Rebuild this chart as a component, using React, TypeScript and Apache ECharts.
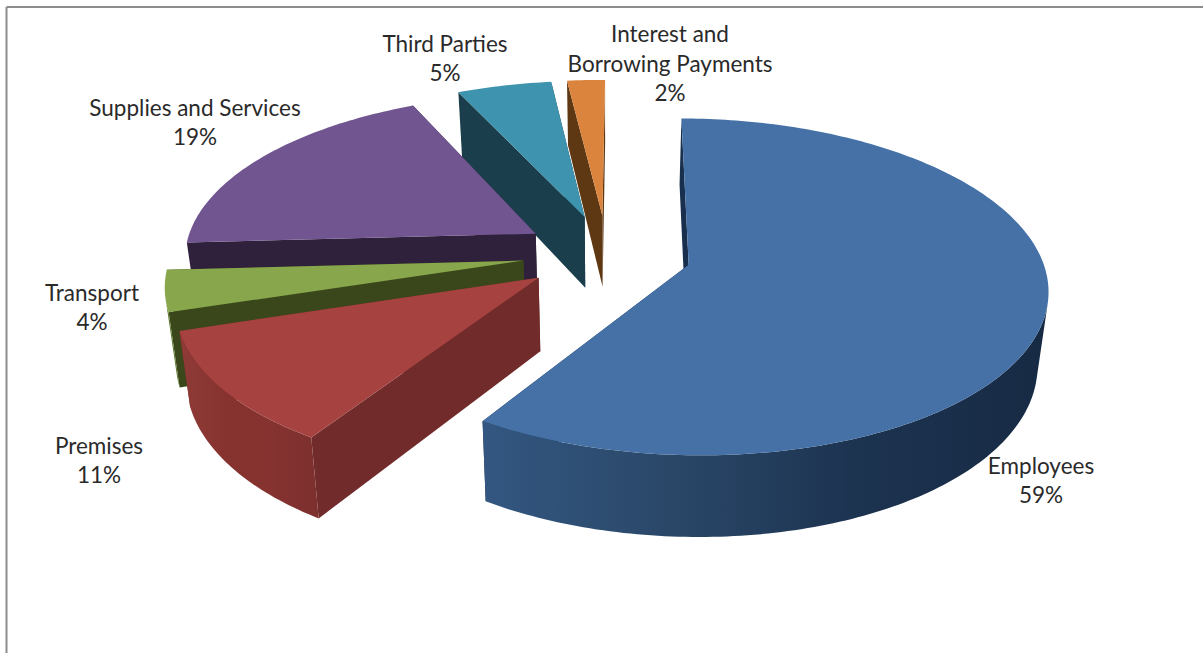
import React, { useEffect, useRef } from "react";
import * as echarts from "echarts";

// Cost breakdown, drawn as an exploded 3D pie
const categories = [
  "Employees",
  "Premises",
  "Transport",
  "Supplies and Services",
  "Third Parties",
  "Interest and\nBorrowing Payments",
];
const percentages = [59, 11, 4, 19, 5, 2];
const topColors = ["#4571a6", "#a64341", "#88a64c", "#715590", "#3e93ae", "#db843d"];
const wallColors = ["#18304e", "#702b2a", "#3a471b", "#2f203b", "#1a3e4b", "#5e3813"];
const rimStops = [
  ["#335781", "#2a4768", "#1c3350", "#172a44"],
  ["#8f3a37", "#86332f", "#853230", "#7c302e"],
  ["#5f7a30", "#5f7a30", "#5f7a30", "#5f7a30"],
  ["#4a3560", "#4a3560", "#4a3560", "#4a3560"],
  ["#2a6074", "#2a6074", "#2a6074", "#2a6074"],
  ["#94561f", "#94561f", "#94561f", "#94561f"],
];
// Back slices are painted first so the nearer ones overlap them
const paintOrder = [4, 5, 3, 2, 1, 0];
const labelAnchors = [
  [1041, 480],
  [99, 460],
  [92, 307],
  [195, 122],
  [445, 58],
  [670, 63],
];

// Perspective camera for the pie
const CX = 607;
const CY = 253.5;
const RX = 352;
const RY = 162.6;
const PERSPECTIVE = 0.13;
const EXPLODE = 0.24;
const DEPTH = 72.5;
const CONVERGE = 0.025;
const ROTATION = (0.4 * Math.PI) / 180;
const TEXT_COLOR = "#2a2a2a";

type Pt = [number, number];

function project(wx: number, wy: number, z: number): Pt {
  const s = 1 / (1 + PERSPECTIVE * wy);
  const x = CX + wx * RX * s * (1 - CONVERGE * z);
  const y = CY - wy * RY * s + z * DEPTH * Math.pow(s, 0.8);
  return [x, y];
}

const total = percentages.reduce((a, b) => a + b, 0);

function sliceRange(i: number): [number, number] {
  const before = percentages.slice(0, i).reduce((a, b) => a + b, 0);
  return [
    ROTATION + (before / total) * 2 * Math.PI,
    ROTATION + ((before + percentages[i]) / total) * 2 * Math.PI,
  ];
}

function renderSlice(_params: any, api: any) {
  const i = api.value(0) as number;
  const [a0, a1] = sliceRange(i);
  const mid = (a0 + a1) / 2;
  const ox = EXPLODE * Math.sin(mid);
  const oy = EXPLODE * Math.cos(mid);
  const edge = (t: number, z: number) => project(ox + Math.sin(t), oy + Math.cos(t), z);
  const apex = (z: number) => project(ox, oy, z);

  const steps = Math.max(6, Math.ceil(((a1 - a0) * 180) / Math.PI));
  const angles = Array.from({ length: steps + 1 }, (_, k) => a0 + ((a1 - a0) * k) / steps);

  const poly = (points: Pt[], fill: any) => ({
    type: "polygon",
    shape: { points },
    style: { fill, stroke: null },
  });

  const children: any[] = [
    poly([apex(0), edge(a0, 0), edge(a0, 1), apex(1)], wallColors[i]),
    poly([apex(0), edge(a1, 0), edge(a1, 1), apex(1)], wallColors[i]),
  ];

  // Outer rim: only the run of segments that faces the camera
  const visible: number[] = [];
  for (let k = 0; k < steps; k++) {
    const a = edge(angles[k], 0);
    const b = edge(angles[k + 1], 0);
    const d = edge(angles[k], 1);
    const cross = (b[0] - a[0]) * (d[1] - a[1]) - (b[1] - a[1]) * (d[0] - a[0]);
    if (cross < 0) visible.push(k);
  }
  if (visible.length) {
    const first = visible[0];
    const last = visible[visible.length - 1] + 1;
    const run = angles.slice(first, last + 1);
    const pts = [...run.map((t) => edge(t, 0)), ...run.slice().reverse().map((t) => edge(t, 1))];
    const stops = rimStops[i];
    children.push(
      poly(
        pts,
        new echarts.graphic.LinearGradient(
          0,
          0,
          1,
          0,
          stops.map((color, n) => ({ offset: n / (stops.length - 1), color }))
        )
      )
    );
  }

  children.push(poly([apex(0), ...angles.map((t) => edge(t, 0))], topColors[i]));

  children.push({
    type: "text",
    style: {
      text: `${categories[i]}\n${percentages[i]}%`,
      x: labelAnchors[i][0],
      y: labelAnchors[i][1],
      align: "center",
      verticalAlign: "middle",
      fontFamily: "Lato",
      fontSize: 22.5,
      lineHeight: 29.5,
      fill: TEXT_COLOR,
    },
    z2: 100,
  });

  return { type: "group", children };
}

export default function App() {
  const ref = useRef<HTMLDivElement>(null);

  useEffect(() => {
    document.body.style.margin = "0";
    const chart = echarts.init(ref.current!, undefined, { renderer: "svg" });
    chart.setOption({
      animation: false,
      backgroundColor: "#ffffff",
      graphic: [
        {
          type: "line",
          shape: { x1: 6.5, y1: 7, x2: 1203, y2: 7 },
          style: { stroke: "#8c8c8c", lineWidth: 2 },
        },
        {
          type: "line",
          shape: { x1: 6.5, y1: 7, x2: 6.5, y2: 653 },
          style: { stroke: "#8c8c8c", lineWidth: 2 },
        },
      ],
      series: [
        {
          type: "custom",
          coordinateSystem: "none",
          silent: true,
          renderItem: renderSlice,
          data: paintOrder.map((i) => [i]),
        },
      ],
    });
    return () => chart.dispose();
  }, []);

  return <div ref={ref} style={{ width: 1203, height: 653 }} />;
}
